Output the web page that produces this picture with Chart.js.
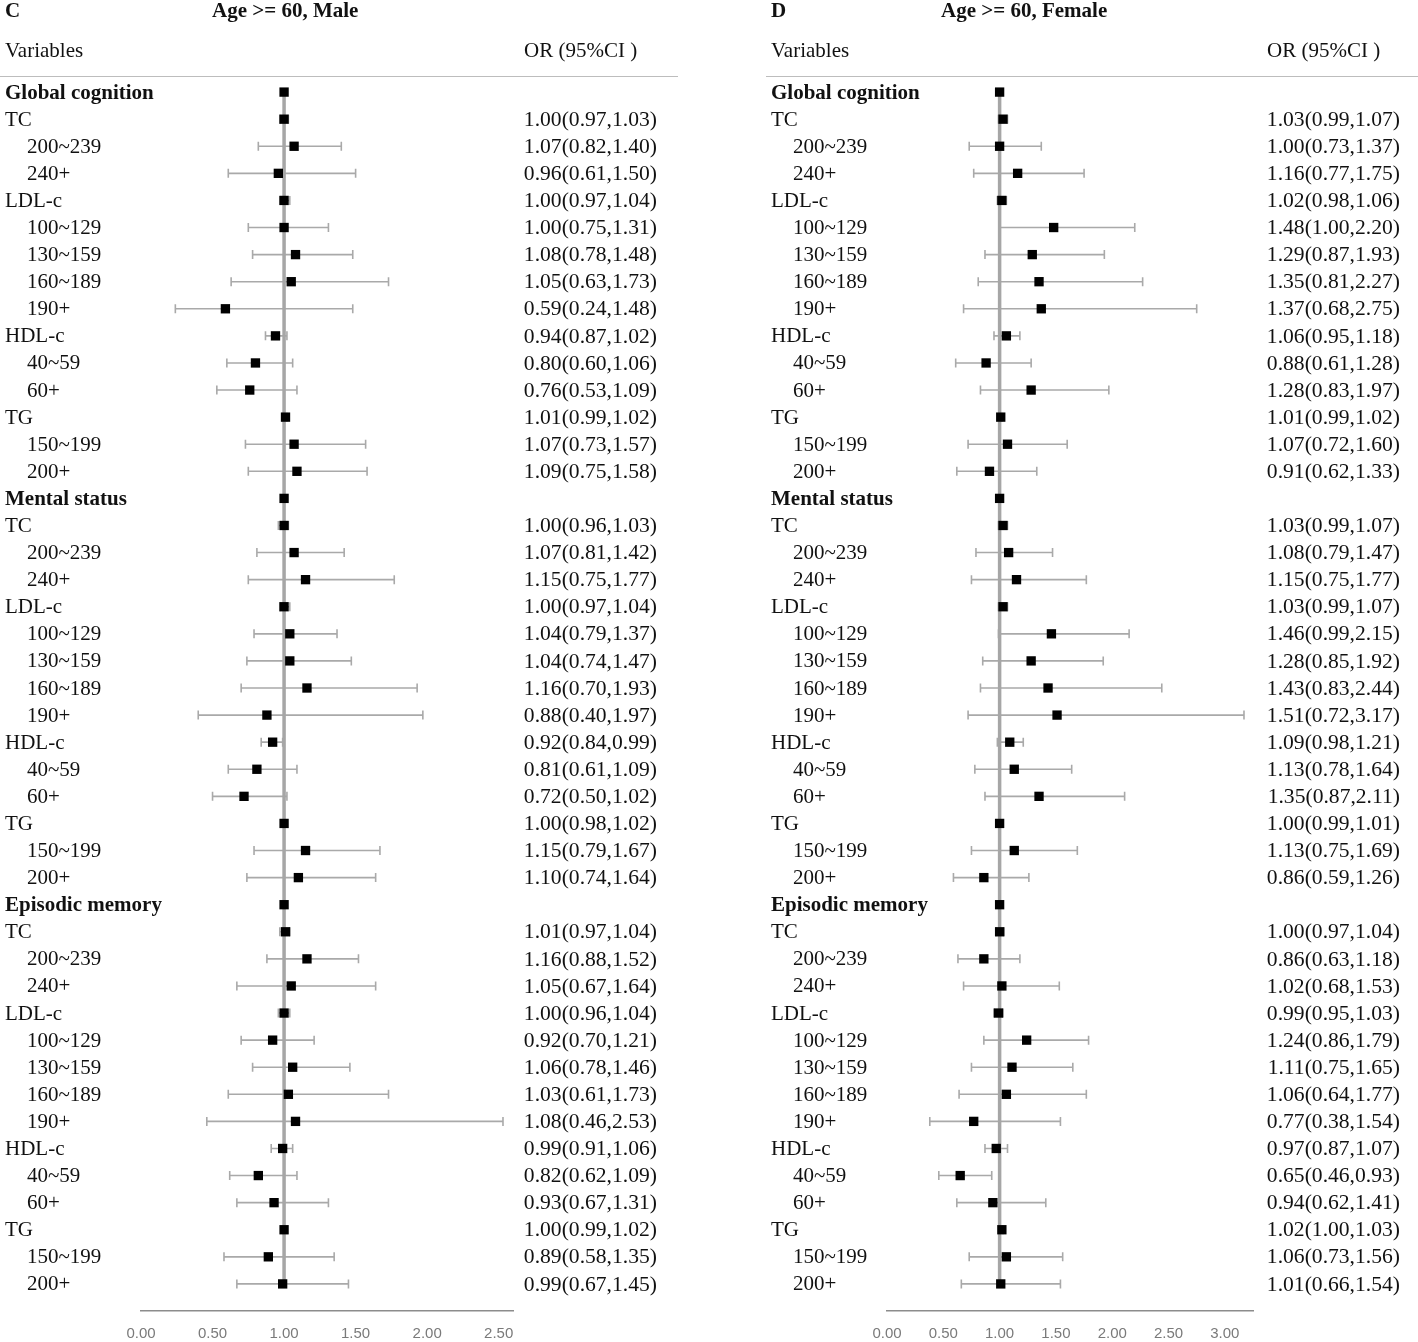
<!DOCTYPE html>
<html>
<head>
<meta charset="utf-8">
<script src="https://cdn.jsdelivr.net/npm/chart.js@4.4.1/dist/chart.umd.min.js"></script>
<style>
	body { margin: 0; background: #fff; }
	#wrap { position: relative; width: 1418px; height: 1342px; }
	canvas { position: absolute; top: 0; }
</style>
</head>
<body>
<div id="wrap">
	<canvas id="maleChart" width="709" height="1342" style="left:0"></canvas>
	<canvas id="femaleChart" width="709" height="1342" style="left:709px"></canvas>
</div>
<script>
const sectionNames = ['Global cognition', 'Mental status', 'Episodic memory'];
const itemLabels = ['TC', '200~239', '240+', 'LDL-c', '100~129', '130~159', '160~189', '190+', 'HDL-c', '40~59', '60+', 'TG', '150~199', '200+'];
const mainItems = ['TC', 'LDL-c', 'HDL-c', 'TG'];
const headerMarker = 1.00;

const maleOR = [1.00, 1.07, 0.96, 1.00, 1.00, 1.08, 1.05, 0.59, 0.94, 0.80, 0.76, 1.01, 1.07, 1.09,
	1.00, 1.07, 1.15, 1.00, 1.04, 1.04, 1.16, 0.88, 0.92, 0.81, 0.72, 1.00, 1.15, 1.10,
	1.01, 1.16, 1.05, 1.00, 0.92, 1.06, 1.03, 1.08, 0.99, 0.82, 0.93, 1.00, 0.89, 0.99];
const maleLow = [0.97, 0.82, 0.61, 0.97, 0.75, 0.78, 0.63, 0.24, 0.87, 0.60, 0.53, 0.99, 0.73, 0.75,
	0.96, 0.81, 0.75, 0.97, 0.79, 0.74, 0.70, 0.40, 0.84, 0.61, 0.50, 0.98, 0.79, 0.74,
	0.97, 0.88, 0.67, 0.96, 0.70, 0.78, 0.61, 0.46, 0.91, 0.62, 0.67, 0.99, 0.58, 0.67];
const maleHigh = [1.03, 1.40, 1.50, 1.04, 1.31, 1.48, 1.73, 1.48, 1.02, 1.06, 1.09, 1.02, 1.57, 1.58,
	1.03, 1.42, 1.77, 1.04, 1.37, 1.47, 1.93, 1.97, 0.99, 1.09, 1.02, 1.02, 1.67, 1.64,
	1.04, 1.52, 1.64, 1.04, 1.21, 1.46, 1.73, 2.53, 1.06, 1.09, 1.31, 1.02, 1.35, 1.45];

const femaleOR = [1.03, 1.00, 1.16, 1.02, 1.48, 1.29, 1.35, 1.37, 1.06, 0.88, 1.28, 1.01, 1.07, 0.91,
	1.03, 1.08, 1.15, 1.03, 1.46, 1.28, 1.43, 1.51, 1.09, 1.13, 1.35, 1.00, 1.13, 0.86,
	1.00, 0.86, 1.02, 0.99, 1.24, 1.11, 1.06, 0.77, 0.97, 0.65, 0.94, 1.02, 1.06, 1.01];
const femaleLow = [0.99, 0.73, 0.77, 0.98, 1.00, 0.87, 0.81, 0.68, 0.95, 0.61, 0.83, 0.99, 0.72, 0.62,
	0.99, 0.79, 0.75, 0.99, 0.99, 0.85, 0.83, 0.72, 0.98, 0.78, 0.87, 0.99, 0.75, 0.59,
	0.97, 0.63, 0.68, 0.95, 0.86, 0.75, 0.64, 0.38, 0.87, 0.46, 0.62, 1.00, 0.73, 0.66];
const femaleHigh = [1.07, 1.37, 1.75, 1.06, 2.20, 1.93, 2.27, 2.75, 1.18, 1.28, 1.97, 1.02, 1.60, 1.33,
	1.07, 1.47, 1.77, 1.07, 2.15, 1.92, 2.44, 3.17, 1.21, 1.64, 2.11, 1.01, 1.69, 1.26,
	1.04, 1.18, 1.53, 1.03, 1.79, 1.65, 1.77, 1.54, 1.07, 0.93, 1.41, 1.03, 1.56, 1.54];

const maleTicks = [0, 0.5, 1, 1.5, 2, 2.5];
const femaleTicks = [0, 0.5, 1, 1.5, 2, 2.5, 3];

const serif = '"Liberation Serif", "Times New Roman", serif';

// one row per line of the table: section headers + items
function buildRows(est, low, high) {
	const rows = [];
	let k = 0;
	sectionNames.forEach(name => {
		rows.push({ label: name, header: true, est: headerMarker, low: null, high: null });
		itemLabels.forEach(item => {
			rows.push({ label: item, header: false, main: mainItems.includes(item), est: est[k], low: low[k], high: high[k] });
			k++;
		});
	});
	return rows;
}

const whiskerPlugin = {
	id: 'whiskers',
	beforeDatasetsDraw(chart) {
		const rows = chart.options.plugins.forest.rows;
		const xs = chart.scales.x, ys = chart.scales.y;
		const ctx = chart.ctx;
		ctx.save();
		ctx.strokeStyle = '#a9a9a9';
		ctx.lineWidth = 1.6;
		rows.forEach((r, i) => {
			if (r.low === null) return;
			const y = ys.getPixelForValue(i);
			const x1 = xs.getPixelForValue(r.low), x2 = xs.getPixelForValue(r.high);
			ctx.beginPath();
			ctx.moveTo(x1, y); ctx.lineTo(x2, y);
			ctx.moveTo(x1, y - 4.5); ctx.lineTo(x1, y + 4.5);
			ctx.moveTo(x2, y - 4.5); ctx.lineTo(x2, y + 4.5);
			ctx.stroke();
		});
		ctx.restore();
	}
};

const tablePlugin = {
	id: 'forest',
	afterDraw(chart) {
		const o = chart.options.plugins.forest;
		const ys = chart.scales.y;
		const ctx = chart.ctx;
		ctx.save();
		ctx.fillStyle = '#111';
		ctx.textBaseline = 'middle';

		ctx.font = 'bold 21px ' + serif;
		ctx.textAlign = 'left';
		ctx.fillText(o.letter, o.labelX, 12);
		ctx.fillText(o.title, o.titleX, 12);

		ctx.font = '21px ' + serif;
		ctx.fillText('Variables', o.labelX, 51);
		ctx.fillText('OR (95%CI )', o.orX, 51);

		ctx.strokeStyle = '#bdbdbd';
		ctx.lineWidth = 1.2;
		ctx.beginPath();
		ctx.moveTo(o.lineFrom, 76.5);
		ctx.lineTo(o.lineTo, 76.5);
		ctx.stroke();

		o.rows.forEach((r, i) => {
			const y = ys.getPixelForValue(i) + 1;
			ctx.textAlign = 'left';
			if (r.header) {
				ctx.font = 'bold 21px ' + serif;
				ctx.fillText(r.label, o.labelX, y);
				return;
			}
			ctx.font = '21px ' + serif;
			ctx.fillText(r.label, r.main ? o.labelX : o.labelX + 22, y);
			ctx.textAlign = 'right';
			ctx.font = '21.6px ' + serif;
			ctx.fillText(r.est.toFixed(2) + '(' + r.low.toFixed(2) + ',' + r.high.toFixed(2) + ')', o.orRight, y);
		});
		ctx.restore();
	}
};

function renderForest(canvasId, rows, ticks, xMax, pad, text) {
	const ctx = document.getElementById(canvasId).getContext('2d');
	return new Chart(ctx, {
		type: 'scatter',
		data: {
			datasets: [{
				type: 'scatter',
				data: rows.map((r, i) => ({ x: r.est, y: i })),
				pointStyle: 'rect',
				pointRadius: 6.6,
				backgroundColor: '#000',
				borderWidth: 0,
				order: 1,
				clip: false
			}, {
				type: 'line',
				data: [{ x: 1, y: 0 }, { x: 1, y: rows.length - 1 }],
				borderColor: '#a6a6a6',
				borderWidth: 3.5,
				pointRadius: 0,
				order: 2,
				clip: false
			}]
		},
		options: {
			responsive: false,
			animation: false,
			layout: { padding: { left: pad.left, right: pad.right, top: 65, bottom: 0 } },
			scales: {
				x: {
					type: 'linear',
					position: 'bottom',
					min: 0,
					max: xMax,
					afterBuildTicks: scale => { scale.ticks = ticks.map(v => ({ value: v })); },
					afterFit: scale => { scale.height = 31; },
					grid: { display: false, drawTicks: false },
					border: { display: true, color: '#8c8c8c', width: 1.5 },
					ticks: {
						padding: 14,
						color: '#7a7a7a',
						font: { family: '"Liberation Sans", Arial, sans-serif', size: 15 },
						callback: v => Number(v).toFixed(2),
						maxRotation: 0
					}
				},
				y: {
					type: 'linear',
					reverse: true,
					min: -1,
					max: rows.length,
					display: false
				}
			},
			plugins: {
				legend: { display: false },
				tooltip: { enabled: false },
				forest: Object.assign({ rows: rows }, text)
			}
		},
		plugins: [whiskerPlugin, tablePlugin]
	});
}

const maleRows = buildRows(maleOR, maleLow, maleHigh);
const femaleRows = buildRows(femaleOR, femaleLow, femaleHigh);

renderForest('maleChart', maleRows, maleTicks, 2.6, { left: 141, right: 196 }, {
	letter: 'C', title: 'Age >= 60, Male', labelX: 5, titleX: 212, orX: 524, orRight: 657, lineFrom: 0, lineTo: 678
});
renderForest('femaleChart', femaleRows, femaleTicks, 3.25, { left: 178, right: 165 }, {
	letter: 'D', title: 'Age >= 60, Female', labelX: 62, titleX: 232, orX: 558, orRight: 691, lineFrom: 57, lineTo: 709
});
</script>
</body>
</html>
